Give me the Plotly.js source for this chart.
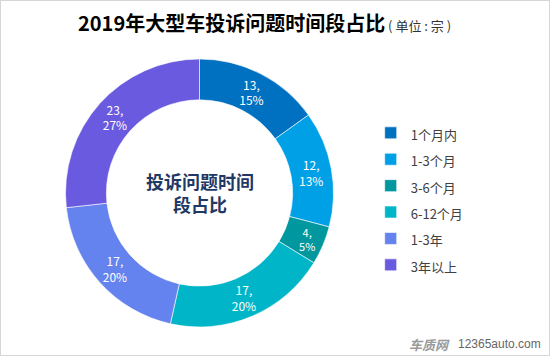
<!DOCTYPE html>
<html>
<head>
<meta charset="utf-8">
<script src="https://cdn.plot.ly/plotly-3.0.1.min.js"></script>
<style>
  html, body { margin: 0; padding: 0; background: #ffffff; }
  #wrap { position: relative; width: 550px; height: 356px; }
  #chart { width: 550px; height: 356px; }
  #frame { position: absolute; left: 0; top: 0; width: 550px; height: 356px; box-sizing: border-box; border: 1px solid #d6d6d6; pointer-events: none; }
</style>
</head>
<body>
<div id="wrap"><div id="chart"></div><div id="frame"></div></div>
<script>
const categories = ["1个月内", "1-3个月", "3-6个月", "6-12个月", "1-3年", "3年以上"];
const counts = [13, 12, 4, 17, 17, 23];
const percentLabels = ["15%", "13%", "5%", "20%", "20%", "27%"];
const colors = ["#0070C0", "#00A0E6", "#00979E", "#00B5C7", "#6583EE", "#6A5AE0"];

const FONT = '"Noto Sans CJK SC", "Microsoft YaHei", sans-serif';

const legendLabels = categories.map(c => '<span style="font-size:13px">' + c + '</span>');
const sliceText = counts.map((v, i) => v + ',<br>' + percentLabels[i]);

const trace = {
  type: 'pie',
  labels: legendLabels,
  values: counts,
  text: sliceText,
  textinfo: 'text',
  textposition: 'inside',
  insidetextorientation: 'horizontal',
  textfont: { family: FONT, size: 12, color: '#ffffff' },
  hole: 0.695,
  sort: false,
  direction: 'clockwise',
  rotation: 0,
  marker: { colors: colors, line: { color: '#ffffff', width: 0.6 } },
  domain: { x: [0.1191, 0.6064], y: [0.0815, 0.8343] },
  hoverinfo: 'skip'
};

const layout = {
  width: 550,
  height: 356,
  margin: { l: 0, r: 0, t: 0, b: 0 },
  paper_bgcolor: '#ffffff',
  plot_bgcolor: '#ffffff',
  font: { family: FONT, color: '#333333' },
  title: {
    text: '<b>2019年大型车投诉问题时间段占比</b><span style="font-size:13px;color:#333333">\u00a0(\u00a0单位\u00a0:\u00a0宗\u00a0)</span>',
    font: { family: FONT, size: 20, color: '#000000' },
    x: 78 / 550, xanchor: 'left', xref: 'container',
    y: 1 - 24 / 356, yanchor: 'middle', yref: 'container'
  },
  showlegend: true,
  legend: {
    x: 0.674, xanchor: 'left',
    y: 0.678, yanchor: 'top',
    font: { family: FONT, size: 18, color: '#404040' },
    bgcolor: 'rgba(0,0,0,0)'
  },
  annotations: [
    {
      text: '<b>投诉问题时间<br>段占比</b>',
      xref: 'paper', yref: 'paper',
      x: 199.5 / 550, y: 1 - 192 / 356,
      xanchor: 'center', yanchor: 'middle',
      showarrow: false,
      font: { family: FONT, size: 18, color: '#1F3864' }
    },
    {
      text: '<b><i>车质网</i></b>',
      xref: 'paper', yref: 'paper',
      x: 452 / 550, y: 1 - 344 / 356,
      xanchor: 'right', yanchor: 'middle',
      showarrow: false,
      font: { family: FONT, size: 13, color: '#9a9a9a' }
    },
    {
      text: '12365auto.com',
      xref: 'paper', yref: 'paper',
      x: 456 / 550, y: 1 - 344 / 356,
      xanchor: 'left', yanchor: 'middle',
      showarrow: false,
      font: { family: 'Liberation Sans, Arial, sans-serif', size: 12, color: '#666666' }
    }
  ]
};

Plotly.newPlot('chart', [trace], layout, { displayModeBar: false, staticPlot: true });
</script>
</body>
</html>
